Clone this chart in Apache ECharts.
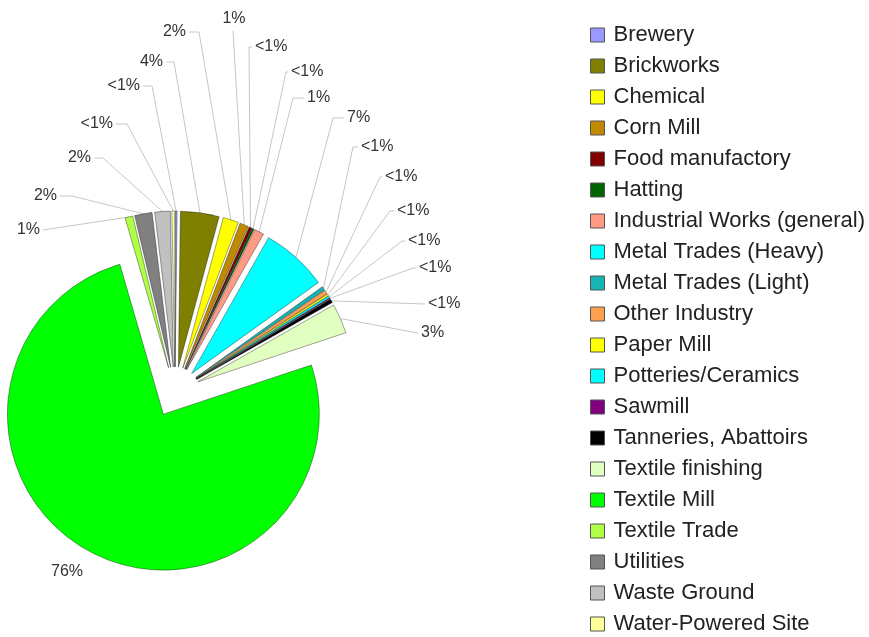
<!DOCTYPE html>
<html>
<head>
<meta charset="utf-8">
<script src="https://cdn.jsdelivr.net/npm/echarts@6/dist/echarts.min.js"></script>
<style>
  html, body { margin: 0; padding: 0; background: #fff; }
  #site_types { width: 869px; height: 637px; }
</style>
</head>
<body>
<div id="site_types"></div>
<script>
// site categories, in legend / slice order (clockwise from 12 o'clock)
var categories = ['Brewery', 'Brickworks', 'Chemical', 'Corn Mill', 'Food manufactory',
    'Hatting', 'Industrial Works (general)', 'Metal Trades (Heavy)', 'Metal Trades (Light)',
    'Other Industry', 'Paper Mill', 'Potteries/Ceramics', 'Sawmill', 'Tanneries, Abattoirs',
    'Textile finishing', 'Textile Mill', 'Textile Trade', 'Utilities', 'Waste Ground',
    'Water-Powered Site'];
// share of sites, percent
var shares = [0.2, 4.0, 1.6, 0.9, 0.3,
    0.2, 1.0, 6.9, 0.4,
    0.4, 0.2, 0.2, 0.1, 0.4,
    3.1, 75.6, 0.8, 1.8, 1.6,
    0.3];
var colors = ['#9999ff', '#808000', '#ffff00', '#c08a00', '#800000',
    '#006400', '#ff9a85', '#00ffff', '#16b4b4',
    '#ffa050', '#ffff00', '#00ffff', '#800080', '#000000',
    '#e0ffc0', '#00ff00', '#afff45', '#808080', '#c0c0c0',
    '#ffff99'];

// label placement: [text x, text y, align, elbow x]
var labelSpots = [
    [140, 86, 'right', 152],
    [163, 62, 'right', 174],
    [186, 32, 'right', 199],
    [234, 19, 'center', 233],
    [255, 47, 'left', 249],
    [291, 72, 'left', 286],
    [307, 98, 'left', 293],
    [347, 118, 'left', 333],
    [361, 147, 'left', 353],
    [385, 177, 'left', 380],
    [397, 211, 'left', 390],
    [408, 241, 'left', 402],
    [419, 268, 'left', 413],
    [428, 304, 'left', null],
    [421, 333, 'left', null],
    [67, 572, 'center', null],
    [40, 230, 'right', null],
    [57, 196, 'right', 72],
    [91, 158, 'right', 103],
    [113, 124, 'right', 127]
];

var pieCenter = [175, 392];
var pieRadius = 156;
var explode = 25;
var font = 'Liberation Sans, Arial, sans-serif';

var total = 0;
for (var i = 0; i < shares.length; i++) total += shares[i];

// outer mid point of each exploded slice, where its leader line starts
var lineStarts = [];
var cum = 0;
for (var i = 0; i < shares.length; i++) {
    var a = (cum + shares[i] / 2) / total * 2 * Math.PI;
    var r = pieRadius + explode;
    lineStarts.push([pieCenter[0] + r * Math.sin(a), pieCenter[1] - r * Math.cos(a)]);
    cum += shares[i];
}

var slices = [];
var labels = [];
for (var i = 0; i < categories.length; i++) {
    slices.push({
        name: categories[i],
        value: shares[i],
        selected: true,
        itemStyle: { color: colors[i] }
    });
    var lab = { name: categories[i], value: shares[i] };
    if (categories[i] == 'Textile Mill') lab.labelLine = { show: false };
    labels.push(lab);
}

var myChart = echarts.init(document.getElementById('site_types'));
var option = {
    animation: false,
    textStyle: { fontFamily: font },
    legend: {
        orient: 'vertical',
        left: 590,
        top: 24,
        height: 612,
        padding: 0,
        itemWidth: 14,
        itemHeight: 14,
        itemGap: 9,
        icon: 'rect',
        selectedMode: false,
        data: categories,
        itemStyle: { borderColor: '#555', borderWidth: 1 },
        textStyle: {
            fontSize: 22,
            lineHeight: 20,
            color: '#222',
            padding: [0, 0, 0, 4],
            fontFamily: font
        }
    },
    series: [{
        // the exploded slices
        name: 'Site type',
        type: 'pie',
        center: pieCenter,
        radius: pieRadius,
        startAngle: 90,
        clockwise: true,
        selectedMode: 'multiple',
        selectedOffset: explode,
        data: slices,
        itemStyle: {
            borderColor: 'rgba(0, 0, 0, 0.45)',
            borderWidth: 0.8
        },
        select: {
            itemStyle: { borderColor: 'rgba(0, 0, 0, 0.45)', borderWidth: 0.8 }
        },
        emphasis: { disabled: true },
        label: { show: false },
        labelLine: { show: false }
    }, {
        // same data again, invisible, carrying the percentage labels
        name: 'Labels',
        type: 'pie',
        center: pieCenter,
        radius: pieRadius,
        startAngle: 90,
        clockwise: true,
        silent: true,
        avoidLabelOverlap: false,
        data: labels,
        itemStyle: { color: 'rgba(0,0,0,0)', borderWidth: 0 },
        emphasis: { disabled: true },
        label: {
            show: true,
            fontSize: 16,
            color: '#333',
            fontFamily: font,
            formatter: function (p) {
                var pct = Math.round(p.value / total * 100);
                return pct < 1 ? '<1%' : pct + '%';
            }
        },
        labelLine: {
            show: true,
            lineStyle: { color: '#c6c6c6', width: 1 }
        },
        labelLayout: function (params) {
            var i = params.dataIndex;
            var s = labelSpots[i];
            var start = lineStarts[i];
            var end;
            var pts;
            if (s[2] == 'center') {
                end = [s[3] == null ? s[0] : s[3], s[1] + 12];
                pts = [start, end, end];
            } else {
                end = [s[2] == 'left' ? s[0] - 3 : s[0] + 3, s[1]];
                if (s[3] == null) {
                    pts = [start, end, end];
                } else {
                    pts = [start, [s[3], s[1]], end];
                }
            }
            return {
                x: s[0],
                y: s[1],
                align: s[2],
                verticalAlign: 'middle',
                labelLinePoints: pts
            };
        }
    }]
};
myChart.setOption(option);
</script>
</body>
</html>
